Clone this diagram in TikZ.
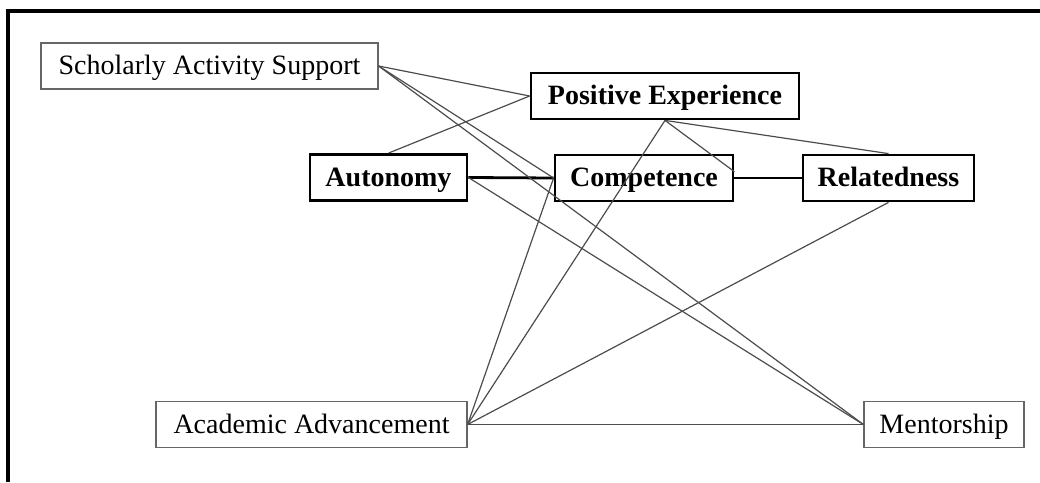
\documentclass[tikz,border=0pt]{standalone}
\usepackage{fontspec}
\setmainfont{Liberation Serif}
\usetikzlibrary{positioning}
\tikzset{
  factor/.style={draw=black!60, line width=1.2pt, minimum height=46pt, inner sep=0pt,
    text height=21pt, text depth=4pt, font=\fontsize{28}{30}\selectfont},
  need/.style={draw=black, line width=2.8pt, minimum height=46pt, inner sep=0pt,
    text height=21pt, text depth=4pt, font=\fontsize{28}{30}\selectfont\bfseries},
  link/.style={black!70, line width=1.2pt},
  strong/.style={black, line width=2.8pt}
}
\begin{document}
\begin{tikzpicture}[x=1pt,y=-1pt]
      \useasboundingbox (0,0) rectangle (1040,482);
      \draw[line width=3.5pt] (8,482) -- (8,11) -- (1040,11);
      % factors
      \node [factor, minimum width=337pt] (sas) at (209.5,66) {Scholarly Activity Support};
      \node [factor, minimum width=311pt] (aa) at (311.5,424.5) {Academic Advancement};
      \node [factor, minimum width=160pt] (ment) at (944,424.5) {Mentorship};
      % needs
      \node [need, minimum width=268pt] (pe) at (665,96) {Positive Experience};
      \node [need, minimum width=157pt] (aut) at (388.5,177.5) {Autonomy};
      \node [need, minimum width=178pt] (comp) at (644,178) {Competence};
      \node [need, minimum width=171pt] (rel) at (888.5,178) {Relatedness};
      \draw[strong] (aut.east) -- (comp.west);
      \draw[strong] (comp.east) -- (rel.west);
      \foreach \a/\b in {sas.east/pe.west, sas.east/comp.west, sas.east/ment.west,
                         aut.north/pe.west, aut.east/ment.west,
                         pe.south/comp.4, pe.south/rel.north, pe.south/aa.east,
                         comp.west/aa.east, rel.south/aa.east, aa.east/ment.west} {
        \draw[link] (\a) -- (\b);
      }
    \end{tikzpicture}
\end{document}
